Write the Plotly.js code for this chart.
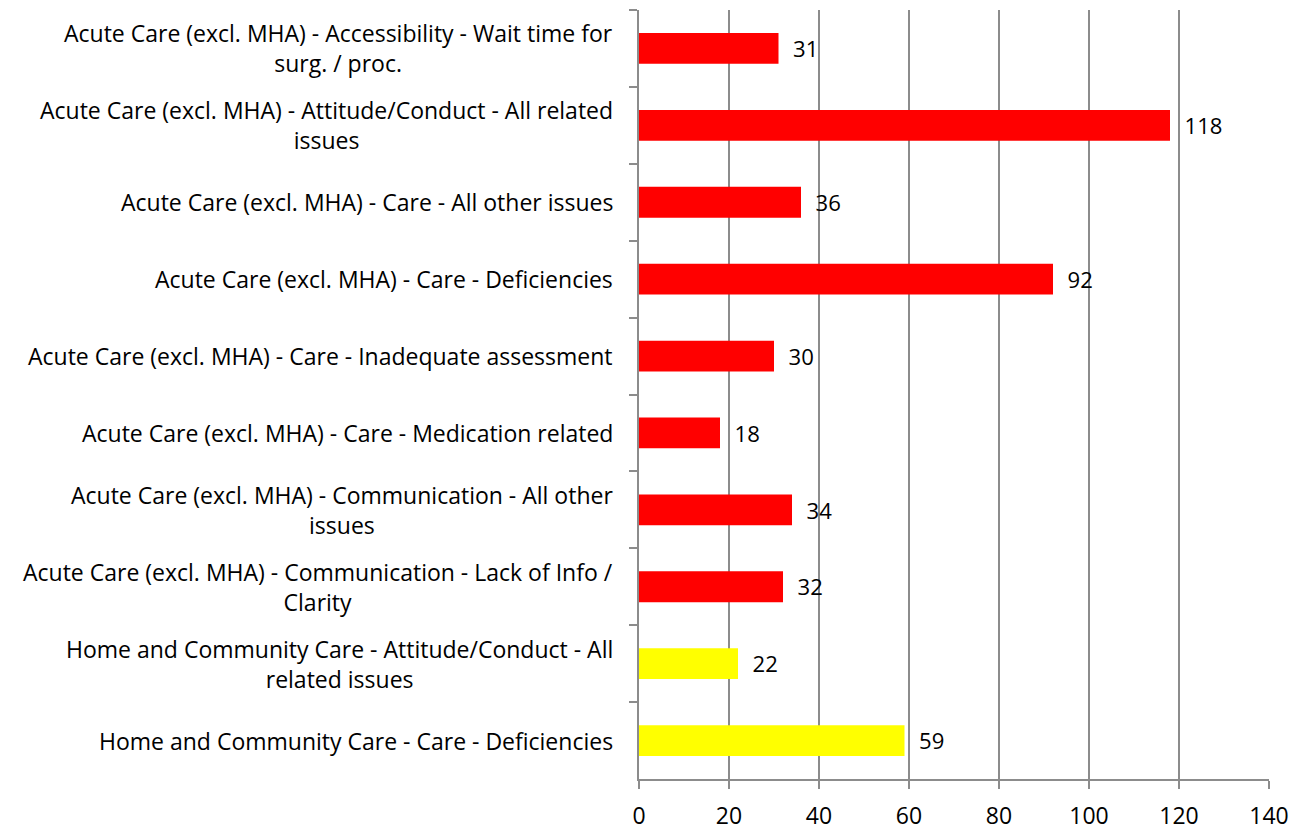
<!DOCTYPE html>
<html>
<head>
<meta charset="utf-8">
<script src="https://cdn.plot.ly/plotly-3.0.1.min.js"></script>
<style>html,body{margin:0;padding:0;background:#fff;}#chart{width:1306px;height:831px;}</style>
</head>
<body>
<div id="chart"></div>
<script>
const categories = [
  "Acute Care (excl. MHA) - Accessibility - Wait time for<br>surg. / proc.",
  "Acute Care (excl. MHA) - Attitude/Conduct - All related<br>issues",
  "Acute Care (excl. MHA) - Care - All other issues",
  "Acute Care (excl. MHA) - Care - Deficiencies",
  "Acute Care (excl. MHA) - Care - Inadequate assessment",
  "Acute Care (excl. MHA) - Care - Medication related",
  "Acute Care (excl. MHA) - Communication - All other<br>issues",
  "Acute Care (excl. MHA) - Communication - Lack of Info /<br>Clarity",
  "Home and Community Care - Attitude/Conduct - All<br>related issues",
  "Home and Community Care - Care - Deficiencies"
];
const values = [31, 118, 36, 92, 30, 18, 34, 32, 22, 59];
const barColors = ["#FF0000","#FF0000","#FF0000","#FF0000","#FF0000","#FF0000","#FF0000","#FF0000","#FFFF00","#FFFF00"];
const xTicks = [0, 20, 40, 60, 80, 100, 120, 140];

const font = {family: "Open Sans, Noto Sans, sans-serif", size: 23, color: "#000"};
const gridCol = "#8C8C8C";

const trace = {
  type: "bar",
  orientation: "h",
  x: values,
  y: categories,
  marker: {color: barColors, line: {width: 0}},
  text: values.map(String),
  texttemplate: "  %{text}",
  textposition: "outside",
  cliponaxis: false,
  textfont: font,
  hoverinfo: "x+y"
};

// category labels drawn as centred multi-line text beside the axis
const labelAnnotations = categories.map(c => ({
  xref: "paper", yref: "y",
  x: 0, y: c,
  xanchor: "right", yanchor: "middle",
  xshift: -24,
  align: "center",
  text: c,
  showarrow: false,
  font: font
}));

const layout = {
  width: 1306,
  height: 831,
  margin: {l: 639, r: 37, t: 10, b: 52},
  paper_bgcolor: "#fff",
  plot_bgcolor: "#fff",
  showlegend: false,
  bargap: 0.6,
  font: font,
  annotations: labelAnnotations,
  xaxis: {
    range: [0, 140],
    tickvals: xTicks,
    ticktext: xTicks.map(String),
    showgrid: true,
    gridcolor: gridCol,
    gridwidth: 2,
    zeroline: false,
    showline: true,
    linecolor: gridCol,
    linewidth: 2,
    ticks: "outside",
    ticklen: 8,
    tickcolor: gridCol,
    tickwidth: 2,
    ticklabelstandoff: 7,
    tickfont: font,
    fixedrange: true
  },
  yaxis: {
    type: "category",
    autorange: "reversed",
    showgrid: false,
    zeroline: false,
    showline: true,
    linecolor: gridCol,
    linewidth: 2,
    ticks: "outside",
    tickson: "boundaries",
    ticklen: 8,
    tickcolor: gridCol,
    tickwidth: 2,
    showticklabels: false,
    fixedrange: true
  }
};

Plotly.newPlot("chart", [trace], layout, {displayModeBar: false, staticPlot: true});
</script>
</body>
</html>
